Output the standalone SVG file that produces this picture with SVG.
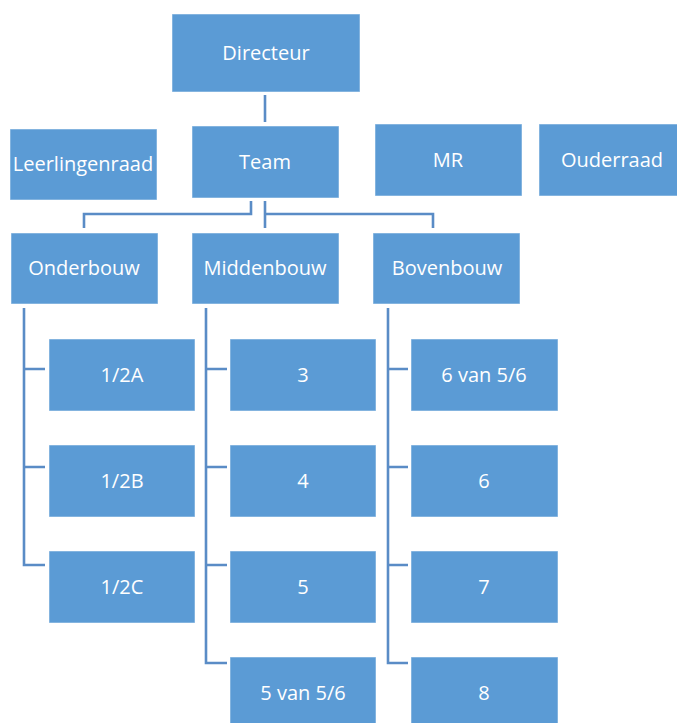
<svg xmlns="http://www.w3.org/2000/svg" width="677" height="723" viewBox="0 0 677 723">
<style>
.box{fill:#5B9BD5;stroke:#ffffff;stroke-opacity:0.5;stroke-width:1}
.t{font-family:"Open Sans","Liberation Sans",sans-serif;font-size:20px;fill:#ffffff;text-anchor:middle}
.c{fill:none;stroke:#5A8CC6;stroke-width:2.6}
</style>
<rect width="677" height="723" fill="#ffffff"/>
<g id="connectors">
<path class="c" d="M265,95 V122"/>
<path class="c" d="M251,201 V214 H84 V228"/>
<path class="c" d="M265,201 V228 M265,214 H433 V228"/>
<path class="c" d="M24,308 V565 H45 M24,369 H45 M24,467 H45"/>
<path class="c" d="M206,308 V663 H227 M206,369 H227 M206,467 H227 M206,565 H227"/>
<path class="c" d="M388,308 V663 H408 M388,369 H408 M388,467 H408 M388,565 H408"/>
</g>
<g id="directeur"><rect class="box" x="172" y="14" width="188" height="78"/><text class="t" x="266" y="60">Directeur</text></g>
<g id="leerlingenraad"><rect class="box" x="10" y="129" width="147" height="71"/><text class="t" x="83" y="171">Leerlingenraad</text></g>
<g id="team"><rect class="box" x="192" y="126" width="147" height="72"/><text class="t" x="265" y="169">Team</text></g>
<g id="mr"><rect class="box" x="375" y="124" width="147" height="72"/><text class="t" x="448" y="167">MR</text></g>
<g id="ouderraad"><rect class="box" x="539" y="124" width="147" height="72"/><text class="t" x="612" y="167">Ouderraad</text></g>
<g id="onderbouw"><rect class="box" x="11" y="233" width="147" height="71"/><text class="t" x="84" y="275">Onderbouw</text></g>
<g id="middenbouw"><rect class="box" x="192" y="233" width="147" height="71"/><text class="t" x="265" y="275">Middenbouw</text></g>
<g id="bovenbouw"><rect class="box" x="373" y="233" width="147" height="71"/><text class="t" x="447" y="275">Bovenbouw</text></g>
<g id="g12a"><rect class="box" x="49" y="339" width="146" height="72"/><text class="t" x="122" y="382">1/2A</text></g>
<g id="g12b"><rect class="box" x="49" y="445" width="146" height="72"/><text class="t" x="122" y="488">1/2B</text></g>
<g id="g12c"><rect class="box" x="49" y="551" width="146" height="72"/><text class="t" x="122" y="594">1/2C</text></g>
<g id="g3"><rect class="box" x="230" y="339" width="146" height="72"/><text class="t" x="303" y="382">3</text></g>
<g id="g4"><rect class="box" x="230" y="445" width="146" height="72"/><text class="t" x="303" y="488">4</text></g>
<g id="g5"><rect class="box" x="230" y="551" width="146" height="72"/><text class="t" x="303" y="594">5</text></g>
<g id="g5van56"><rect class="box" x="230" y="657" width="146" height="72"/><text class="t" x="303" y="700">5 van 5/6</text></g>
<g id="g6van56"><rect class="box" x="411" y="339" width="147" height="72"/><text class="t" x="484" y="382">6 van 5/6</text></g>
<g id="g6"><rect class="box" x="411" y="445" width="147" height="72"/><text class="t" x="484" y="488">6</text></g>
<g id="g7"><rect class="box" x="411" y="551" width="147" height="72"/><text class="t" x="484" y="594">7</text></g>
<g id="g8"><rect class="box" x="411" y="657" width="147" height="72"/><text class="t" x="484" y="700">8</text></g>
</svg>
